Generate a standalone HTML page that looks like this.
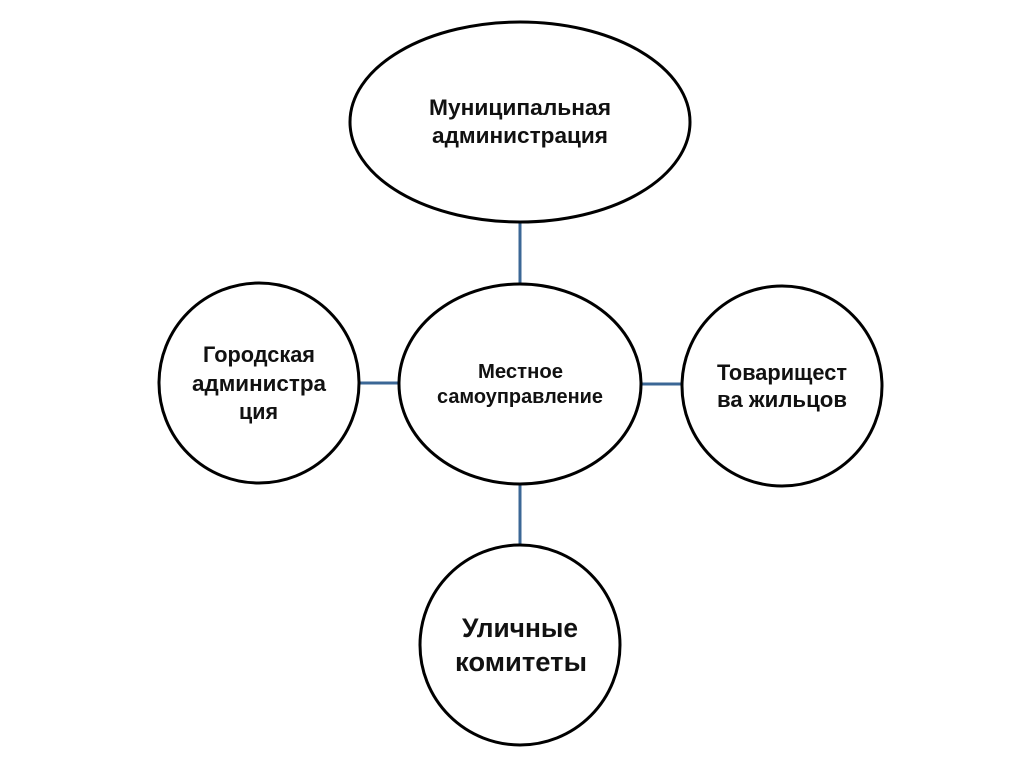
<!DOCTYPE html>
<html>
<head>
<meta charset="utf-8">
<style>
html,body{margin:0;padding:0;background:#fff;width:1024px;height:767px;overflow:hidden}
svg{display:block}
text{font-family:"Liberation Sans","DejaVu Sans",sans-serif;fill:#111;font-weight:bold;text-anchor:start}
</style>
</head>
<body>
<svg width="1024" height="767" viewBox="0 0 1024 767" xmlns="http://www.w3.org/2000/svg">
<rect width="1024" height="767" fill="#fff"/>
<g stroke="#3b6796" stroke-width="3" fill="none">
<line x1="520" y1="222" x2="520" y2="284"/>
<line x1="359" y1="383" x2="399" y2="383"/>
<line x1="641" y1="384" x2="682" y2="384"/>
<line x1="520" y1="483" x2="520" y2="545"/>
</g>
<g stroke="#000" stroke-width="3" fill="#fff">
<ellipse cx="520" cy="122" rx="170" ry="100"/>
<ellipse cx="520" cy="384" rx="121" ry="100"/>
<ellipse cx="259" cy="383" rx="100" ry="100"/>
<ellipse cx="782" cy="386" rx="100" ry="100"/>
<ellipse cx="520" cy="645" rx="100" ry="100"/>
</g>
<g font-size="22">
<text x="429" y="115" textLength="182" lengthAdjust="spacingAndGlyphs">Муниципальная</text>
<text x="432" y="143" textLength="176" lengthAdjust="spacingAndGlyphs">администрация</text>
<text x="203" y="362" textLength="112" lengthAdjust="spacingAndGlyphs">Городская</text>
<text x="192" y="391" textLength="134" lengthAdjust="spacingAndGlyphs">администра</text>
<text x="239" y="419" textLength="39" lengthAdjust="spacingAndGlyphs">ция</text>
<text x="717" y="380" textLength="130" lengthAdjust="spacingAndGlyphs">Товарищест</text>
<text x="717" y="407" textLength="130" lengthAdjust="spacingAndGlyphs">ва жильцов</text>
</g>
<g font-size="20">
<text x="478" y="378" textLength="85" lengthAdjust="spacingAndGlyphs">Местное</text>
<text x="437" y="403" textLength="166" lengthAdjust="spacingAndGlyphs">самоуправление</text>
</g>
<g font-size="27">
<text x="462" y="637" textLength="116" lengthAdjust="spacingAndGlyphs">Уличные</text>
<text x="455" y="671" textLength="132" lengthAdjust="spacingAndGlyphs">комитеты</text>
</g>
</svg>
</body>
</html>
